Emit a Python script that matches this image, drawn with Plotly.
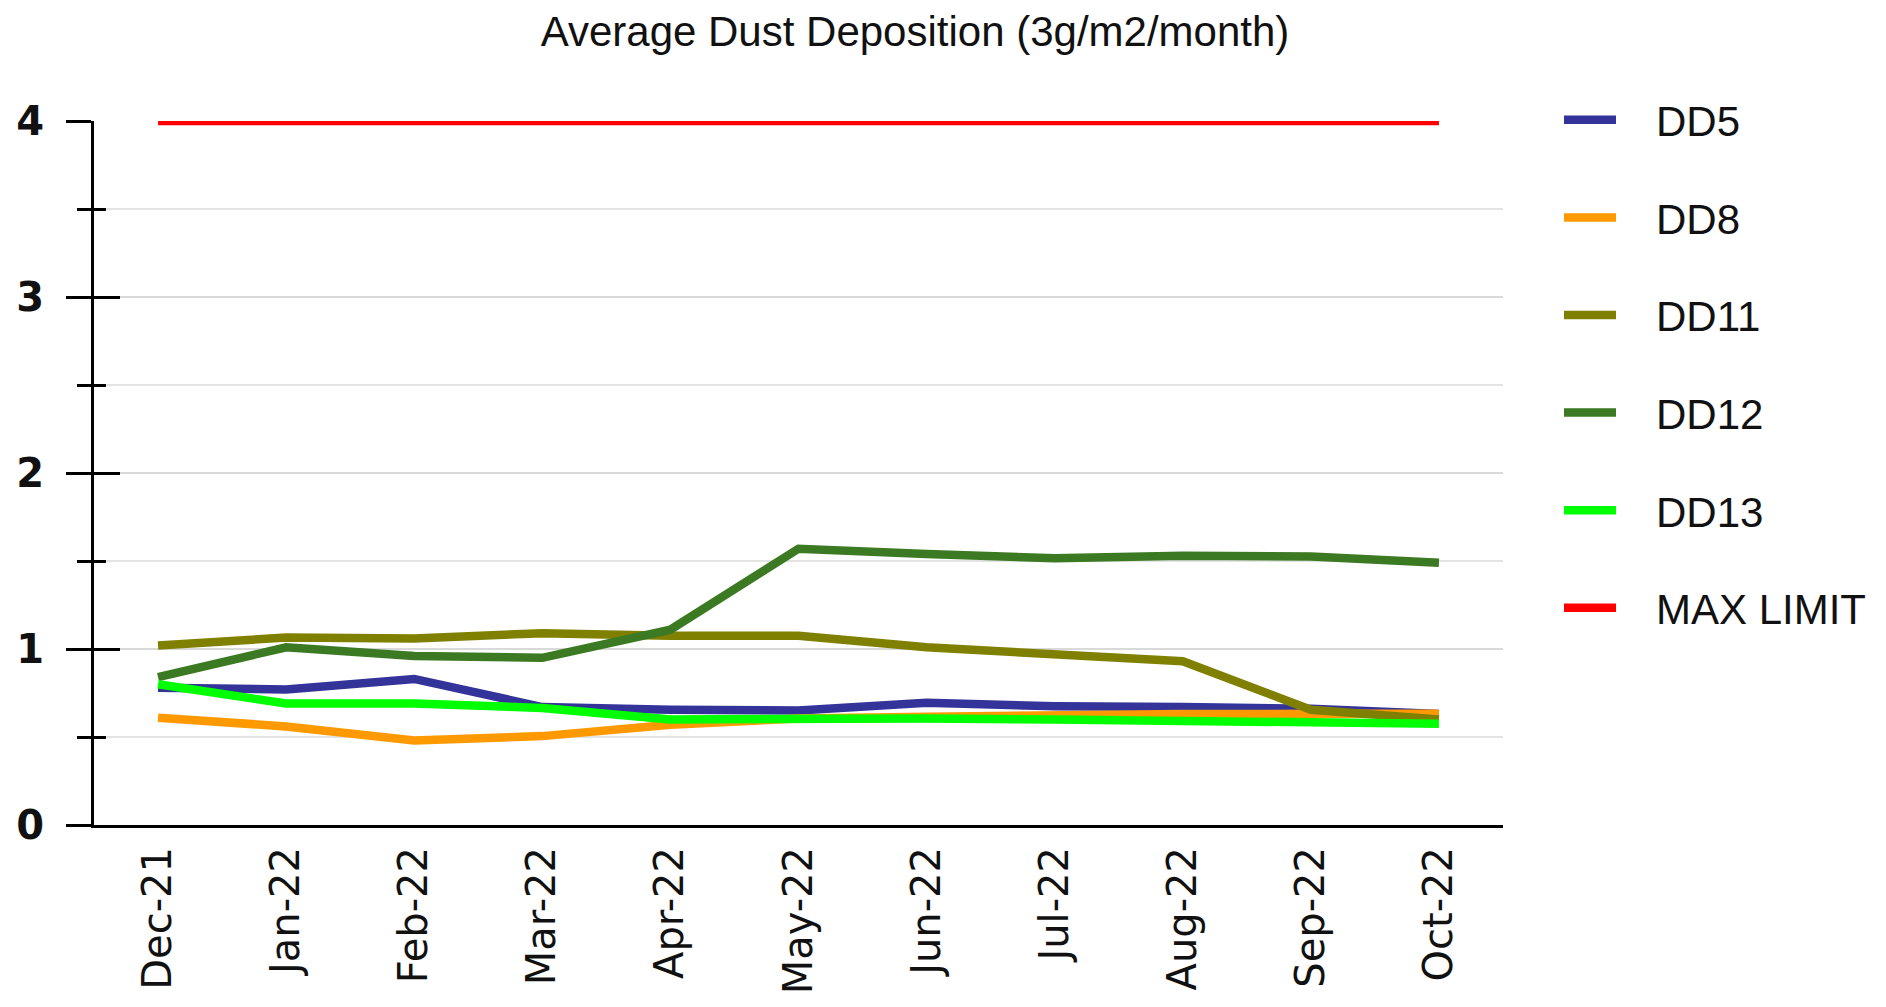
import plotly.graph_objects as go

months = ["Dec-21", "Jan-22", "Feb-22", "Mar-22", "Apr-22", "May-22",
          "Jun-22", "Jul-22", "Aug-22", "Sep-22", "Oct-22"]

dd5 = [0.78, 0.77, 0.83, 0.67, 0.655, 0.65, 0.695, 0.675, 0.67, 0.66, 0.63]
dd8 = [0.61, 0.56, 0.48, 0.505, 0.57, 0.605, 0.615, 0.625, 0.63, 0.632, 0.632]
dd11 = [1.02, 1.065, 1.06, 1.09, 1.075, 1.075, 1.01, 0.965, 0.93, 0.655, 0.60]
dd12 = [0.84, 1.01, 0.96, 0.95, 1.11, 1.57, 1.54, 1.515, 1.53, 1.525, 1.49]
dd13 = [0.80, 0.69, 0.69, 0.665, 0.60, 0.605, 0.605, 0.60, 0.595, 0.59, 0.575]
max_limit = [4, 4, 4, 4, 4, 4, 4, 4, 4, 4, 4]

series = [
    ("DD5", dd5, "#333399"),
    ("DD8", dd8, "#ff9900"),
    ("DD11", dd11, "#808000"),
    ("DD12", dd12, "#3b7a22"),
    ("DD13", dd13, "#00ff00"),
]

PAD = "\u00a0\u00a0\u00a0"  # visual gap between legend swatch and label

fig = go.Figure()
for name, vals, col in series:
    fig.add_trace(go.Scatter(
        x=months, y=vals, name=PAD + name, mode="lines",
        line=dict(color=col, width=8.5), legendgroup=name,
    ))
fig.add_trace(go.Scatter(
    x=months, y=max_limit, name=PAD + "MAX LIMIT", mode="lines",
    line=dict(color="#ff0000", width=8.5), legendgroup="MAX LIMIT",
    yaxis="y2",
))

fig.update_layout(
    width=1886, height=1007,
    paper_bgcolor="white", plot_bgcolor="white",
    margin=dict(l=86, r=391, t=113, b=190, autoexpand=False),
    title=dict(
        text="Average Dust Deposition (3g/m2/month)",
        font=dict(family="Liberation Sans, Arial", size=42, color="#111111"),
        x=907 / 1886, xref="container", xanchor="center",
        y=1 - 23 / 1007, yref="container", yanchor="middle",
    ),
    xaxis=dict(
        type="category", range=[-0.5, 10.5], automargin=False,
        showline=True, linecolor="black", linewidth=3,
        showgrid=False, zeroline=False, ticks="",
        tickangle=-90,
        tickfont=dict(family="DejaVu Sans", size=40, color="#111111"),
        ticklabelstandoff=3,
    ),
    yaxis=dict(
        range=[0, 4], dtick=1, tick0=0, automargin=False,
        showline=True, linecolor="black", linewidth=3,
        showgrid=True, gridcolor="#d9d9d9", gridwidth=2,
        zeroline=False,
        ticks="outside", ticklen=25, tickwidth=3, tickcolor="black",
        tickfont=dict(family="DejaVu Sans", size=40, color="#111111", weight="bold"),
        ticklabelstandoff=14,
        minor=dict(dtick=0.5, tick0=0, ticks="outside", ticklen=14, tickwidth=3,
                   tickcolor="black", showgrid=True, gridcolor="#e3e3e3", gridwidth=2),
    ),
    yaxis2=dict(
        range=[0, 4], dtick=1, tick0=0, overlaying="y", side="left", anchor="x",
        automargin=False,
        showline=False, showgrid=False, zeroline=False, showticklabels=False,
        ticks="inside", ticklen=26, tickwidth=3, tickcolor="black",
        minor=dict(dtick=0.5, tick0=0, ticks="inside", ticklen=12, tickwidth=3,
                   tickcolor="black", showgrid=False),
    ),
    showlegend=True,
    legend=dict(
        xref="container", yref="container",
        x=1551 / 1886, xanchor="left",
        y=1 - 78 / 1007, yanchor="top",
        font=dict(family="Liberation Sans, Arial", size=42, color="#111111"),
        tracegroupgap=40, itemwidth=52, maxheight=1000,
        bgcolor="rgba(0,0,0,0)",
    ),
)

fig.write_html("out.html")
